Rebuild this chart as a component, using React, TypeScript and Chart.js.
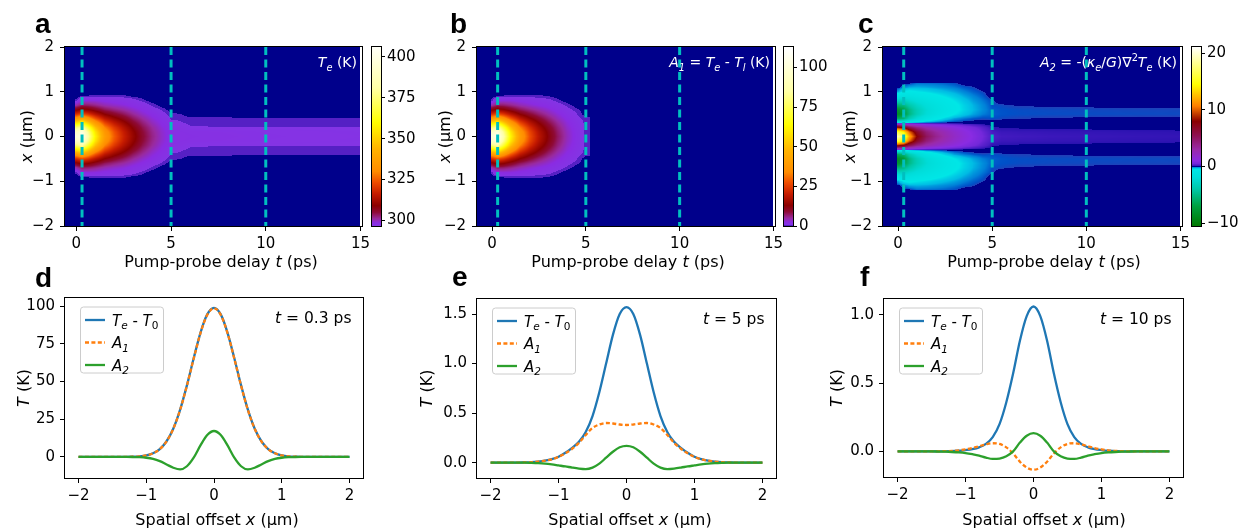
import React, { useEffect, useRef } from 'react';
import { Chart, registerables } from 'chart.js';

Chart.register(...registerables);

/* ---------------- data ---------------- */

// heat-map sampling (pump-probe delay t in ps, |x| offset in um)
const heatTimes = [0, 0.3, 0.6, 1, 1.5, 2, 2.5, 3, 3.5, 4, 4.5, 5, 5.5, 6, 6.5, 7, 8, 10, 12, 15];
const heatTimesA1 = [0, 0.3, 0.6, 1, 1.5, 2, 2.5, 3, 3.5, 4, 4.5, 5];
const heatOffsets = [0, 0.1, 0.2, 0.3, 0.4, 0.5, 0.6, 0.7, 0.8, 0.9, 1.0, 1.1, 1.2];
const T0 = 296; // ambient temperature (K)

// panel a: T_e (K), one row per time, columns = |x|
const heatTe = [
  [396, 390.2, 374.8, 354.6, 334.6, 318.6, 307.8, 300.5, 296.5, null, null],
  [404, 398, 382.5, 361.5, 340.4, 322.9, 310.6, 303.1, 298.5, 296.3, null],
  [384, 379.5, 367.5, 351, 334.2, 319.9, 309.5, 302.8, 298.8, 296.35, null],
  [358, 355, 347, 336, 324.4, 314.3, 306.7, 301.7, 298.7, 296.4, null],
  [336, 334.2, 329.3, 322.5, 315.2, 308.7, 303.7, 300.2, 298.1, 296.4, null],
  [325, 323.8, 320.4, 315.7, 310.5, 305.9, 302.1, 299.4, 297.8, 296.4, null],
  [317, 316.2, 313.9, 310.6, 307, 303.6, 300.8, 298.8, 297.5, 296.4, null],
  [310.5, 309.9, 308.3, 306, 303.5, 301.2, 299.4, 297.9, 297.1, 296.2, null],
  [305.5, 305.1, 304.1, 302.6, 301, 299.4, 298.2, 297.3, 296.5, null, null],
  [302, 301.7, 301.1, 300, 299, 298.1, 297.2, 296.6, null, null, null],
  [299.5, 299.4, 298.9, 298.3, 297.7, 297.1, 296.6, null, null, null, null],
  [297.7, 297.62, 297.4, 297.1, 296.6, 296.4, null, null, null, null, null],
  [297.55, 297.47, 297.24, 296.8, 296.55, 296.32, null, null, null, null, null],
  [297.45, 297.36, 296.8, 296.55, 296.45, null, null, null, null, null, null],
  [297.4, 297.3, 296.77, 296.52, 296.42, null, null, null, null, null, null],
  [297.35, 297.26, 296.76, 296.5, 296.41, null, null, null, null, null, null],
  [297.25, 297.17, 296.75, 296.5, 296.4, null, null, null, null, null, null],
  [297.06, 296.99, 296.74, 296.5, 296.38, null, null, null, null, null, null],
  [296.95, 296.89, 296.73, 296.5, 296.37, null, null, null, null, null, null],
  [296.85, 296.8, 296.72, 296.5, 296.36, null, null, null, null, null, null],
];

// panel b: A1 = Te - Tl (K)
const heatA1 = [
  [100, 94.2, 78.8, 58.6, 38.6, 22.6, 11.8, 4.5, 0.5, null, null],
  [108, 102, 86.5, 65.5, 44.4, 26.9, 14.6, 7.1, 2.5, 0.3, null],
  [88, 83.5, 71.5, 55, 38.2, 23.9, 13.5, 6.8, 2.8, 0.35, null],
  [62, 59, 51, 40, 28.4, 18.3, 10.7, 5.7, 2.7, 0.4, null],
  [40, 38.2, 33.3, 26.5, 19.2, 12.7, 7.7, 4.2, 2.1, 0.4, null],
  [27.5, 26.4, 23.2, 18.7, 13.8, 9.4, 5.8, 3.2, 1.7, 0.4, null],
  [18.7, 17.9, 15.8, 13, 9.8, 6.7, 4.3, 2.4, 1.3, 0.4, null],
  [12.4, 11.9, 10.6, 8.7, 6.6, 4.6, 3.1, 1.8, 1.0, 0.3, null],
  [7.5, 7.1, 6.4, 5.3, 4.0, 2.9, 1.8, 1.1, 0.5, null, null],
  [4.0, 3.85, 3.4, 2.9, 2.2, 1.5, 1.0, 0.55, null, null, null],
  [1.8, 1.75, 1.6, 1.35, 1.05, 0.75, 0.45, null, null, null, null],
  [0.5, 0.52, 0.52, 0.5, 0.4, null, null, null, null, null, null],
];

// panel c: A2 = -(ke/G) lap Te (K)
const heatA2 = [
  [19, 16, 8.5, 0, -6.1, -8.4, -7.7, -5.5, -3.0, -1.0, -0.2, null, null],
  [17, 14.3, 7.6, 0, -5.4, -7.5, -6.9, -5.0, -3.0, -1.5, -0.5, -0.1, null],
  [12, 10.2, 5.6, 0, -3.5, -5.2, -5.0, -3.8, -2.4, -1.3, -0.6, -0.2, null],
  [8, 6.9, 4.0, 0, -2.1, -3.4, -3.4, -2.7, -1.8, -1.0, -0.5, -0.22, -0.08],
  [5.2, 4.5, 2.8, 0, -1.1, -2.05, -2.2, -1.85, -1.3, -0.78, -0.42, -0.2, -0.08],
  [3.8, 3.3, 2.1, 0, -0.64, -1.29, -1.46, -1.29, -0.94, -0.6, -0.33, -0.17, -0.08],
  [2.8, 2.5, 1.6, 0, -0.35, -0.82, -0.97, -0.88, -0.67, -0.45, -0.26, -0.14, -0.07],
  [2.0, 1.8, 1.2, 0, -0.18, -0.5, -0.62, -0.59, -0.47, -0.32, -0.2, -0.11, -0.05],
  [1.4, 1.25, 0.82, 0, -0.11, -0.32, -0.4, -0.38, -0.3, -0.21, -0.13, -0.07, null],
  [0.9, 0.8, 0.54, 0, -0.07, -0.2, -0.245, -0.23, -0.18, -0.13, -0.08, -0.045, null],
  [0.5, 0.44, 0.3, 0, -0.05, -0.12, -0.15, -0.14, -0.11, -0.075, -0.045, null, null],
  [0.22, 0.19, 0.1, 0, -0.06, -0.08, -0.075, -0.06, -0.05, null, null, null, null],
  [0.17, 0.14, 0.075, 0, -0.05, -0.065, -0.062, -0.05, null, null, null, null, null],
  [0.165, 0.14, 0.07, 0, -0.045, -0.06, -0.058, -0.04, null, null, null, null, null],
  [0.16, 0.13, 0.065, 0, -0.04, -0.058, -0.055, -0.035, null, null, null, null, null],
  [0.155, 0.13, 0.062, 0, -0.04, -0.057, -0.054, -0.035, null, null, null, null, null],
  [0.145, 0.12, 0.058, 0, -0.035, -0.056, -0.052, -0.032, null, null, null, null, null],
  [0.134, 0.115, 0.055, 0, -0.035, -0.055, -0.05, -0.03, null, null, null, null, null],
  [0.125, 0.105, 0.05, 0, -0.032, -0.054, -0.048, -0.028, null, null, null, null, null],
  [0.115, 0.097, 0.045, 0, -0.03, -0.052, -0.047, -0.026, null, null, null, null, null],
];

const probeTimes = [0.3, 5, 10];
const heatXTicks = [0, 5, 10, 15];
const heatYTicks = [-2, -1, 0, 1, 2];
const cbTicksTe = [300, 325, 350, 375, 400];
const cbTicksA1 = [0, 25, 50, 75, 100];
const cbTicksA2 = [-10, 0, 10, 20];

// spatial profiles (x in um)
const profileX = [-2, -1.9, -1.8, -1.7, -1.6, -1.5, -1.4, -1.3, -1.2, -1.1, -1, -0.9, -0.8, -0.7, -0.6, -0.5, -0.4, -0.3, -0.2, -0.1, 0,
  0.1, 0.2, 0.3, 0.4, 0.5, 0.6, 0.7, 0.8, 0.9, 1, 1.1, 1.2, 1.3, 1.4, 1.5, 1.6, 1.7, 1.8, 1.9, 2];
// t = 0.3 ps
const te03 = [0, 0, 0, 0, 0, 0, 0.01, 0.04, 0.13, 0.38, 1.0, 2.4, 5.2, 10.4, 18.9, 31.4, 47.5, 65.5, 82.4, 94.6, 99,
  94.6, 82.4, 65.5, 47.5, 31.4, 18.9, 10.4, 5.2, 2.4, 1.0, 0.38, 0.13, 0.04, 0.01, 0, 0, 0, 0, 0, 0];
const a103 = [0, 0, 0, 0, 0, 0, 0.01, 0.04, 0.13, 0.37, 0.98, 2.38, 5.15, 10.3, 18.8, 31.2, 47.3, 65.2, 82.1, 94.3, 98.7,
  94.3, 82.1, 65.2, 47.3, 31.2, 18.8, 10.3, 5.15, 2.38, 0.98, 0.37, 0.13, 0.04, 0.01, 0, 0, 0, 0, 0, 0];
const a203 = [0, 0, 0, 0, 0, 0, 0, -0.02, -0.07, -0.2, -0.55, -1.3, -2.8, -5.0, -7.2, -8.3, -6.2, -0.5, 7.6, 14.5, 17.2,
  14.5, 7.6, -0.5, -6.2, -8.3, -7.2, -5.0, -2.8, -1.3, -0.55, -0.2, -0.07, -0.02, 0, 0, 0, 0, 0, 0, 0];
// t = 5 ps
const te5 = [0, 0, 0, 0, 0, 0.002, 0.005, 0.011, 0.02, 0.035, 0.06, 0.1, 0.15, 0.21, 0.31, 0.47, 0.71, 1.0, 1.29, 1.5, 1.57,
  1.5, 1.29, 1.0, 0.71, 0.47, 0.31, 0.21, 0.15, 0.1, 0.06, 0.035, 0.02, 0.011, 0.005, 0.002, 0, 0, 0, 0, 0];
const a15 = [0, 0, 0, 0, 0, 0.002, 0.005, 0.011, 0.02, 0.034, 0.058, 0.095, 0.14, 0.2, 0.28, 0.35, 0.385, 0.4, 0.395, 0.385, 0.38,
  0.385, 0.395, 0.4, 0.385, 0.35, 0.28, 0.2, 0.14, 0.095, 0.058, 0.034, 0.02, 0.011, 0.005, 0.002, 0, 0, 0, 0, 0];
const a25 = [0, 0, 0, 0, 0, 0, -0.002, -0.005, -0.01, -0.018, -0.028, -0.038, -0.05, -0.06, -0.065, -0.05, -0.01, 0.05, 0.11, 0.155, 0.17,
  0.155, 0.11, 0.05, -0.01, -0.05, -0.065, -0.06, -0.05, -0.038, -0.028, -0.018, -0.01, -0.005, -0.002, 0, 0, 0, 0, 0, 0];
// t = 10 ps
const te10 = [0, 0, 0, 0, 0, 0, 0, 0.001, 0.003, 0.005, 0.01, 0.017, 0.03, 0.055, 0.105, 0.2, 0.36, 0.57, 0.81, 0.99, 1.06,
  0.99, 0.81, 0.57, 0.36, 0.2, 0.105, 0.055, 0.03, 0.017, 0.01, 0.005, 0.003, 0.001, 0, 0, 0, 0, 0, 0, 0];
const a110 = [0, 0, 0, 0, 0, 0, 0.001, 0.002, 0.004, 0.008, 0.015, 0.025, 0.038, 0.052, 0.06, 0.055, 0.03, -0.015, -0.075, -0.118, -0.134,
  -0.118, -0.075, -0.015, 0.03, 0.055, 0.06, 0.052, 0.038, 0.025, 0.015, 0.008, 0.004, 0.002, 0.001, 0, 0, 0, 0, 0, 0];
const a210 = [0, 0, 0, 0, 0, 0, -0.001, -0.002, -0.004, -0.007, -0.012, -0.02, -0.03, -0.045, -0.055, -0.052, -0.035, 0, 0.065, 0.115, 0.134,
  0.115, 0.065, 0, -0.035, -0.052, -0.055, -0.045, -0.03, -0.02, -0.012, -0.007, -0.004, -0.002, -0.001, 0, 0, 0, 0, 0, 0];

const profXTicks = [-2, -1, 0, 1, 2];
const yTicks03 = [0, 25, 50, 75, 100];
const yTicks5 = [0, 0.5, 1, 1.5];
const yTicks10 = [0, 0.5, 1];

/* ---------------- styles ---------------- */

const FONT = "'DejaVu Sans', sans-serif";
const LETTER_FONT = "bold 28px 'Liberation Sans', Arial, sans-serif";
const NAVY = '#00008b';
const BLUE = '#1f77b4';
const ORANGE = '#ff7f0e';
const GREEN = '#2ca02c';
const CYAN = '#00bfbf';
const PL = 62, PT = 46, PR = 12, PB = 52;
const CB_AXIS = 42, CB_PAD = 20;

type Stop = [number, string];
const HOT_STOPS: Stop[] = [
  [0.3, '#5520c4'], [0.7, '#5520c4'], [0.7, '#8434e4'], [2.5, '#8a2be2'], [5, '#992a9e'], [9, '#8e0a36'],
  [13, '#8b0000'], [20, '#c41a00'], [27, '#ee4a00'], [34, '#ff8c00'], [48, '#ffb400'], [64, '#ffff00'],
  [85, '#ffffa6'], [112, '#ffffff'],
];
const DIV_STOPS: Stop[] = [
  [-10.5, '#007800'], [-7, '#00a040'], [-4, '#00c8a8'], [-2, '#00dcd8'], [-0.5, '#00e6e6'], [-0.25, '#00bce4'],
  [-0.12, '#0080d8'], [-0.06, '#0050c8'], [-0.04, '#2040b8'], [-0.04, NAVY], [0.08, NAVY], [0.08, '#2a12b0'],
  [0.2, '#4a1cc4'], [0.5, '#7428da'], [1.0, '#8a2be2'], [3, '#9a2aa8'], [5.5, '#8e1050'], [8, '#8b0000'],
  [10.7, '#ff8000'], [14.5, '#ffff00'], [21.1, '#ffffff'],
];

function hexRgb(c: string) {
  const n = parseInt(c.slice(1), 16);
  return [(n >> 16) & 255, (n >> 8) & 255, n & 255];
}
function stopRGB(stops: Stop[], v: number): number[] {
  if (v <= stops[0][0]) return hexRgb(stops[0][1]);
  for (let k = 0; k < stops.length - 1; k++) {
    const [v0, c0] = stops[k];
    const [v1, c1] = stops[k + 1];
    if (v >= v0 && v <= v1) {
      if (v1 === v0) return hexRgb(c1);
      const f = (v - v0) / (v1 - v0);
      const a = hexRgb(c0), b = hexRgb(c1);
      return [a[0] + (b[0] - a[0]) * f, a[1] + (b[1] - a[1]) * f, a[2] + (b[2] - a[2]) * f];
    }
  }
  return hexRgb(stops[stops.length - 1][1]);
}
const css = (c: number[]) => `rgb(${Math.round(c[0])},${Math.round(c[1])},${Math.round(c[2])})`;
const hotRGB = (ex: number) => (ex < 0.3 ? null : stopRGB(HOT_STOPS, ex));
const divRGB = (v: number) => (v > -0.04 && v < 0.08 ? null : stopRGB(DIV_STOPS, v));

const fmt = (v: number, d: number) => (v < 0 ? '\u2212' : '') + Math.abs(v).toFixed(d);

type Part = { t: string; i?: boolean; s?: 'sub' | 'sup' };
function drawRich(ctx: any, parts: Part[], x: number, y: number, size: number, align: string, color: string, rotate = false) {
  ctx.save();
  ctx.fillStyle = color;
  ctx.textBaseline = 'alphabetic';
  ctx.textAlign = 'left';
  const fontFor = (p: Part) => `${p.i ? 'italic ' : ''}${p.s ? size * 0.7 : size}px ${FONT}`;
  let total = 0;
  const widths = parts.map((p) => {
    ctx.font = fontFor(p);
    const w = ctx.measureText(p.t).width;
    total += w;
    return w;
  });
  ctx.translate(x, y);
  if (rotate) ctx.rotate(-Math.PI / 2);
  let cx = align === 'left' ? 0 : align === 'right' ? -total : -total / 2;
  parts.forEach((p, k) => {
    ctx.font = fontFor(p);
    const dy = p.s === 'sub' ? size * 0.25 : p.s === 'sup' ? -size * 0.4 : 0;
    ctx.fillText(p.t, cx, dy);
    cx += widths[k];
  });
  ctx.restore();
}

function frame(ctx: any, r: { l: number; t: number; r: number; b: number }) {
  ctx.save();
  ctx.strokeStyle = '#000';
  ctx.lineWidth = 1;
  ctx.setLineDash([]);
  ctx.strokeRect(r.l - 0.5, r.t - 0.5, r.r - r.l + 1, r.b - r.t + 1);
  ctx.restore();
}

function axisCfg(min: number, max: number, ticks: number[], digits: number, fit: (s: any) => void, pad: number, tickLen = 5) {
  return {
    type: 'linear',
    min,
    max,
    afterBuildTicks: (s: any) => {
      s.ticks = ticks.map((v) => ({ value: v }));
    },
    afterFit: fit,
    ticks: {
      font: { family: FONT, size: 15 },
      color: '#000',
      autoSkip: false,
      maxRotation: 0,
      padding: pad,
      callback: (v: any) => fmt(Number(v), digits),
    },
    grid: { display: true, drawOnChartArea: false, drawTicks: true, tickLength: tickLen, color: '#000', lineWidth: 1 },
    border: { display: false },
  };
}

// Gouraud-style shading of the sampled grid, mapped through the chart's own scales
function drawHeat(chart: any, times: number[], offsets: number[], rows: (number | null)[][], base: number,
  color: (v: number) => number[] | null, lead: number, tail: number) {
  const { ctx, chartArea: ca } = chart;
  const xs = chart.scales.x, ys = chart.scales.y;
  const w = Math.round(ca.right - ca.left), h = Math.round(ca.bottom - ca.top);
  const img = ctx.createImageData(w, h);
  const navy = hexRgb(NAVY);
  const nT = times.length, nX = offsets.length;
  const node = (i: number, j: number) => {
    const v = rows[i][j];
    return v == null ? base : v;
  };
  const rowInfo: { m: number; f: number }[] = [];
  for (let py = 0; py < h; py++) {
    const ax = Math.abs(ys.getValueForPixel(ca.top + py + 0.5));
    if (ax > offsets[nX - 1]) { rowInfo.push({ m: -1, f: 0 }); continue; }
    let m = 0;
    while (m < nX - 2 && offsets[m + 1] < ax) m++;
    rowInfo.push({ m, f: (ax - offsets[m]) / (offsets[m + 1] - offsets[m]) });
  }
  for (let px = 0; px < w; px++) {
    const t = xs.getValueForPixel(ca.left + px + 0.5);
    let i0 = -1, i1 = -1, ft = 0;
    if (t >= times[0] - lead && t <= times[nT - 1] + tail) {
      if (t <= times[0]) { i0 = i1 = 0; }
      else if (t >= times[nT - 1]) { i0 = i1 = nT - 1; }
      else {
        let k = 0;
        while (k < nT - 2 && times[k + 1] < t) k++;
        i0 = k; i1 = k + 1;
        ft = (t - times[k]) / (times[k + 1] - times[k]);
      }
    }
    for (let py = 0; py < h; py++) {
      let c = navy;
      const ri = rowInfo[py];
      if (i0 >= 0 && ri.m >= 0) {
        const a = node(i0, ri.m) * (1 - ri.f) + node(i0, ri.m + 1) * ri.f;
        const b = node(i1, ri.m) * (1 - ri.f) + node(i1, ri.m + 1) * ri.f;
        const cc = color(a * (1 - ft) + b * ft);
        if (cc) c = cc;
      }
      const o = (py * w + px) * 4;
      img.data[o] = c[0];
      img.data[o + 1] = c[1];
      img.data[o + 2] = c[2];
      img.data[o + 3] = 255;
    }
  }
  ctx.putImageData(img, Math.round(ca.left), Math.round(ca.top));
}

/* ---------------- panel definitions ---------------- */

const heatPanels = [
  {
    letter: 'a', rect: { l: 65, t: 47, r: 362, b: 226 }, cb: { l: 372, t: 47, r: 381, b: 226 }, xmin: -0.6,
    times: heatTimes, rows: heatTe, base: T0, tail: 0, color: (v: number) => hotRGB(v - T0),
    cbColor: (v: number) => stopRGB(HOT_STOPS, v - T0),
    cbMin: 296.6, cbMax: 406, cbTicks: cbTicksTe, letterPos: [35, 33], ylabX: 32, xlabX: 221,
    title: [{ t: 'T', i: true }, { t: 'e', i: true, s: 'sub' }, { t: ' (K)' }] as Part[],
  },
  {
    letter: 'b', rect: { l: 477, t: 47, r: 775, b: 226 }, cb: { l: 784, t: 47, r: 793, b: 226 }, xmin: -0.8,
    times: heatTimesA1, rows: heatA1, base: 0, tail: 0.2, color: (v: number) => hotRGB(v),
    cbColor: (v: number) => stopRGB(HOT_STOPS, v),
    cbMin: 0, cbMax: 113, cbTicks: cbTicksA1, letterPos: [450, 33], ylabX: 450, xlabX: 628,
    title: [{ t: 'A', i: true }, { t: '1', i: true, s: 'sub' }, { t: ' = ' }, { t: 'T', i: true }, { t: 'e', i: true, s: 'sub' },
      { t: ' - ' }, { t: 'T', i: true }, { t: 'l', i: true, s: 'sub' }, { t: ' (K)' }] as Part[],
  },
  {
    letter: 'c', rect: { l: 883, t: 47, r: 1182, b: 226 }, cb: { l: 1192, t: 47, r: 1201, b: 226 }, xmin: -0.8,
    times: heatTimes, rows: heatA2, base: 0, tail: 0, color: divRGB,
    cbColor: (v: number) => stopRGB(DIV_STOPS, v),
    cbMin: -10.5, cbMax: 21.1, cbTicks: cbTicksA2, letterPos: [858, 33], ylabX: 855, xlabX: 1044,
    title: [{ t: 'A', i: true }, { t: '2', i: true, s: 'sub' }, { t: ' = -(' }, { t: '\u03BA', i: true }, { t: 'e', i: true, s: 'sub' },
      { t: '/' }, { t: 'G', i: true }, { t: ')\u2207' }, { t: '2', s: 'sup' }, { t: 'T', i: true }, { t: 'e', i: true, s: 'sub' },
      { t: ' (K)' }] as Part[],
  },
];

const linePanels = [
  {
    letter: 'd', rect: { l: 65, t: 298, r: 363, b: 478 }, ymin: -14, ymax: 105.5, yTicks: yTicks03, yDigits: 0,
    te: te03, a1: a103, a2: a203, probe: probeTimes[0], letterPos: [35, 287], ylabX: 29, xlabX: 217,
  },
  {
    letter: 'e', rect: { l: 477, t: 299, r: 776, b: 478 }, ymin: -0.155, ymax: 1.652, yTicks: yTicks5, yDigits: 1,
    te: te5, a1: a15, a2: a25, probe: probeTimes[1], letterPos: [452, 286], ylabX: 432, xlabX: 630,
  },
  {
    letter: 'f', rect: { l: 884, t: 299, r: 1183, b: 477 }, ymin: -0.187, ymax: 1.115, yTicks: yTicks10, yDigits: 1,
    te: te10, a1: a110, a2: a210, probe: probeTimes[2], letterPos: [860, 286], ylabX: 842, xlabX: 1044,
  },
];

const baseOpts = {
  responsive: false,
  animation: false,
  devicePixelRatio: 1,
  events: [],
};

function makeHeat(canvas: HTMLCanvasElement, p: any) {
  const ox = p.rect.l - PL, oy = p.rect.t - PT;
  return new Chart(canvas, {
    type: 'scatter',
    data: {
      datasets: probeTimes.map((t) => ({
        data: [{ x: t, y: 2 }, { x: t, y: -2 }],
        showLine: true,
        borderColor: CYAN,
        borderWidth: 3,
        borderDash: [8, 4.5],
        pointRadius: 0,
        pointHoverRadius: 0,
      })),
    },
    options: {
      ...baseOpts,
      layout: { padding: { left: 0, top: PT, right: PR, bottom: 0 } },
      plugins: { legend: { display: false }, tooltip: { enabled: false } },
      scales: {
        x: axisCfg(p.xmin, 15, heatXTicks, 0, (s: any) => { s.height = PB; }, 4),
        y: axisCfg(-2, 2, heatYTicks, 0, (s: any) => { s.width = PL; }, 6),
      },
    } as any,
    plugins: [
      {
        id: 'heat',
        beforeDatasetsDraw(c: any) {
          drawHeat(c, p.times, heatOffsets, p.rows, p.base, p.color, 0.06, p.tail);
        },
        afterDraw(c: any) {
          const ctx = c.ctx;
          ctx.save();
          ctx.translate(-ox, -oy);
          frame(ctx, p.rect);
          ctx.font = LETTER_FONT;
          ctx.fillStyle = '#000';
          ctx.textAlign = 'left';
          ctx.textBaseline = 'alphabetic';
          ctx.fillText(p.letter, p.letterPos[0], p.letterPos[1]);
          drawRich(ctx, [{ t: 'x', i: true }, { t: ' (\u03BCm)' }], p.ylabX, (p.rect.t + p.rect.b) / 2, 16, 'center', '#000', true);
          drawRich(ctx, [{ t: 'Pump-probe delay ' }, { t: 't', i: true }, { t: ' (ps)' }], p.xlabX, 267, 16, 'center', '#000');
          drawRich(ctx, p.title, p.rect.r - 5, p.rect.t + 20, 14, 'right', '#ffffff');
          ctx.restore();
        },
      },
    ],
  } as any);
}

function makeColorbar(canvas: HTMLCanvasElement, p: any) {
  return new Chart(canvas, {
    type: 'scatter',
    data: { datasets: [] },
    options: {
      ...baseOpts,
      layout: { padding: { left: 2, top: CB_PAD, right: 0, bottom: CB_PAD } },
      plugins: { legend: { display: false }, tooltip: { enabled: false } },
      scales: {
        x: { display: false, min: 0, max: 1 },
        y: { ...axisCfg(p.cbMin, p.cbMax, p.cbTicks, 0, (s: any) => { s.width = CB_AXIS; }, 2, 4), position: 'right' },
      },
    } as any,
    plugins: [
      {
        id: 'cbar',
        afterDraw(c: any) {
          const { ctx, chartArea: ca } = c;
          const ys = c.scales.y;
          for (let y = Math.floor(ca.top); y < ca.bottom; y++) {
            ctx.fillStyle = css(p.cbColor(ys.getValueForPixel(y + 0.5)));
            ctx.fillRect(ca.left, y, ca.right - ca.left, 1);
          }
          frame(ctx, { l: ca.left, t: ca.top, r: ca.right, b: ca.bottom });
        },
      },
    ],
  } as any);
}

function lineDs(ys: number[], color: string, dash: number[], order: number) {
  return {
    data: profileX.map((x, i) => ({ x, y: ys[i] })),
    showLine: true,
    borderColor: color,
    borderWidth: 2.3,
    borderDash: dash,
    pointRadius: 0,
    pointHoverRadius: 0,
    cubicInterpolationMode: 'monotone',
    fill: false,
    order,
  };
}

const legendRows = [
  { color: BLUE, dash: [] as number[], parts: [{ t: 'T', i: true }, { t: 'e', i: true, s: 'sub' }, { t: ' - ' }, { t: 'T', i: true }, { t: '0', s: 'sub' }] as Part[] },
  { color: ORANGE, dash: [4, 2.4], parts: [{ t: 'A', i: true }, { t: '1', i: true, s: 'sub' }] as Part[] },
  { color: GREEN, dash: [] as number[], parts: [{ t: 'A', i: true }, { t: '2', i: true, s: 'sub' }] as Part[] },
];

function makeLine(canvas: HTMLCanvasElement, p: any) {
  const ox = p.rect.l - PL, oy = p.rect.t - PT;
  return new Chart(canvas, {
    type: 'scatter',
    data: {
      datasets: [lineDs(p.te, BLUE, [], 3), lineDs(p.a1, ORANGE, [4, 2.4], 2), lineDs(p.a2, GREEN, [], 1)],
    },
    options: {
      ...baseOpts,
      layout: { padding: { left: 0, top: PT, right: PR, bottom: 0 } },
      plugins: { legend: { display: false }, tooltip: { enabled: false } },
      scales: {
        x: axisCfg(-2.2, 2.2, profXTicks, 0, (s: any) => { s.height = PB; }, 4),
        y: axisCfg(p.ymin, p.ymax, p.yTicks, p.yDigits, (s: any) => { s.width = PL; }, 5),
      },
    } as any,
    plugins: [
      {
        id: 'lineOverlay',
        afterDraw(c: any) {
          const ctx = c.ctx;
          const r = p.rect;
          ctx.save();
          ctx.translate(-ox, -oy);
          frame(ctx, r);
          ctx.font = LETTER_FONT;
          ctx.fillStyle = '#000';
          ctx.textAlign = 'left';
          ctx.textBaseline = 'alphabetic';
          ctx.fillText(p.letter, p.letterPos[0], p.letterPos[1]);
          drawRich(ctx, [{ t: 'T', i: true }, { t: ' (K)' }], p.ylabX, (r.t + r.b) / 2, 16, 'center', '#000', true);
          drawRich(ctx, [{ t: 'Spatial offset ' }, { t: 'x', i: true }, { t: ' (\u03BCm)' }], p.xlabX, 525, 16, 'center', '#000');
          drawRich(ctx, [{ t: 't', i: true }, { t: ` = ${p.probe} ps` }], r.r - 11.5, r.t + 24.5, 15.5, 'right', '#000');
          // legend
          const lx = r.l + 15, ly = r.t + 8.5, lw = 83, lh = 66;
          ctx.beginPath();
          ctx.roundRect(lx + 0.5, ly + 0.5, lw, lh, 3);
          ctx.fillStyle = 'rgba(255,255,255,0.8)';
          ctx.fill();
          ctx.strokeStyle = '#cccccc';
          ctx.lineWidth = 1;
          ctx.stroke();
          legendRows.forEach((row, k) => {
            const cy = ly + 13.5 + k * 22.5;
            ctx.beginPath();
            ctx.setLineDash(row.dash);
            ctx.strokeStyle = row.color;
            ctx.lineWidth = 2.3;
            ctx.moveTo(lx + 5, cy);
            ctx.lineTo(lx + 25, cy);
            ctx.stroke();
            ctx.setLineDash([]);
            drawRich(ctx, row.parts, lx + 32, cy + 5.5, 15, 'left', '#000');
          });
          ctx.restore();
        },
      },
    ],
  } as any);
}

/* ---------------- React ---------------- */

function ChartCanvas({ left, top, width, height, make }: any) {
  const ref = useRef<HTMLCanvasElement>(null);
  useEffect(() => {
    const chart = make(ref.current as HTMLCanvasElement);
    return () => chart.destroy();
  }, []);
  return (
    <canvas
      ref={ref}
      width={width}
      height={height}
      style={{ position: 'absolute', left, top, width, height, display: 'block' }}
    />
  );
}

export default function App() {
  return (
    <div style={{ position: 'absolute', left: 0, top: 0, width: 1244, height: 530, overflow: 'hidden', background: '#fff' }}>
      {heatPanels.map((p) => (
        <ChartCanvas
          key={'h' + p.letter}
          left={p.rect.l - PL}
          top={p.rect.t - PT}
          width={p.rect.r - p.rect.l + PL + PR}
          height={p.rect.b - p.rect.t + PT + PB}
          make={(c: HTMLCanvasElement) => makeHeat(c, p)}
        />
      ))}
      {heatPanels.map((p) => (
        <ChartCanvas
          key={'cb' + p.letter}
          left={p.cb.l - 2}
          top={p.cb.t - CB_PAD}
          width={p.cb.r - p.cb.l + 2 + CB_AXIS}
          height={p.cb.b - p.cb.t + 2 * CB_PAD}
          make={(c: HTMLCanvasElement) => makeColorbar(c, p)}
        />
      ))}
      {linePanels.map((p) => (
        <ChartCanvas
          key={'l' + p.letter}
          left={p.rect.l - PL}
          top={p.rect.t - PT}
          width={p.rect.r - p.rect.l + PL + PR}
          height={p.rect.b - p.rect.t + PT + PB}
          make={(c: HTMLCanvasElement) => makeLine(c, p)}
        />
      ))}
    </div>
  );
}
